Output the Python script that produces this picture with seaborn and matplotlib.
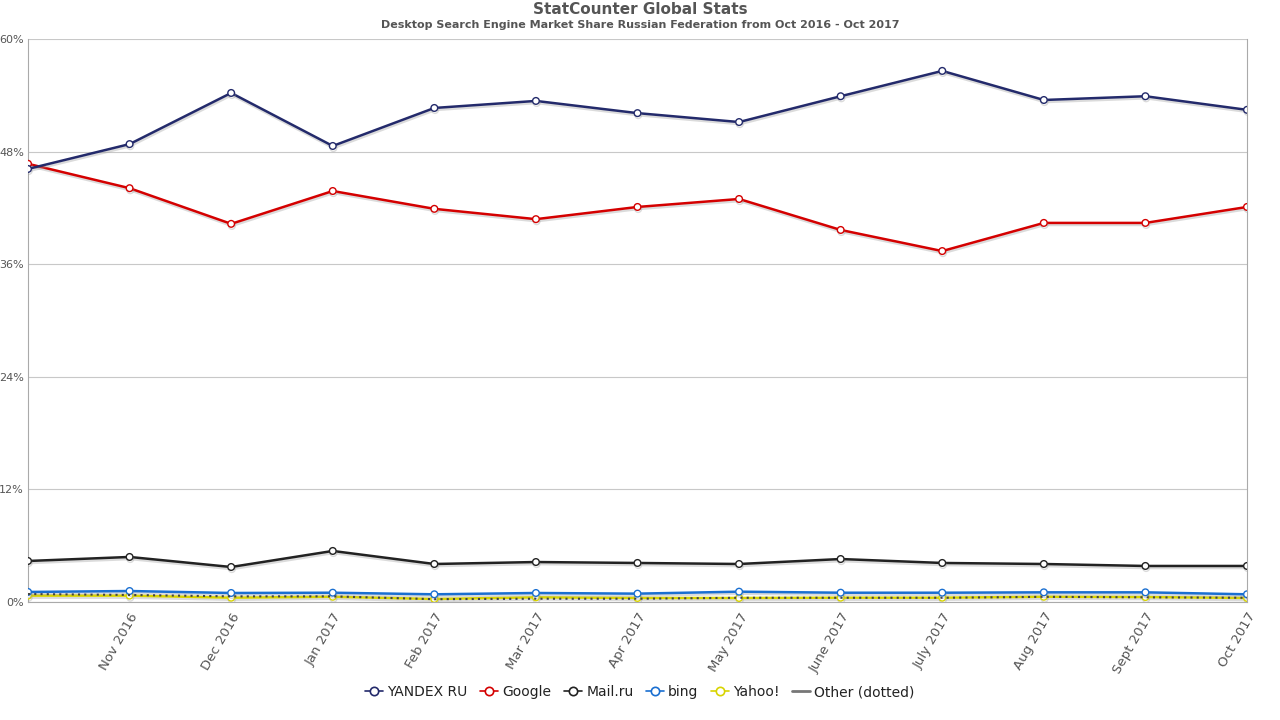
import matplotlib
matplotlib.use("Agg")
import matplotlib.pyplot as plt
import matplotlib.patheffects as pe
from matplotlib.lines import Line2D
import seaborn as sns
import pandas as pd

months = ["Oct 2016", "Nov 2016", "Dec 2016", "Jan 2017", "Feb 2017", "Mar 2017", "Apr 2017",
          "May 2017", "June 2017", "July 2017", "Aug 2017", "Sept 2017", "Oct 2017"]
yandex = [46.15, 48.8, 54.25, 48.6, 52.65, 53.4, 52.1, 51.15, 53.9, 56.6, 53.5, 53.9, 52.45]
google = [46.7, 44.1, 40.3, 43.8, 41.9, 40.8, 42.1, 42.95, 39.65, 37.4, 40.4, 40.4, 42.1]
mailru = [4.37, 4.8, 3.73, 5.44, 4.05, 4.26, 4.16, 4.05, 4.58, 4.16, 4.05, 3.84, 3.84]
bing = [1.07, 1.17, 0.96, 0.99, 0.82, 0.96, 0.89, 1.1, 0.99, 0.99, 1.03, 1.03, 0.82]
yahoo = [0.68, 0.68, 0.46, 0.56, 0.32, 0.5, 0.43, 0.43, 0.46, 0.46, 0.56, 0.53, 0.43]
other = [0.85, 0.75, 0.6, 0.6, 0.3, 0.35, 0.35, 0.45, 0.45, 0.45, 0.55, 0.5, 0.45]

series_names = ["YANDEX RU", "Google", "Mail.ru", "bing", "Yahoo!"]
series_vals = [yandex, google, mailru, bing, yahoo]
colors = ["#232a6b", "#d40000", "#222222", "#1a6fd1", "#d8d400"]
y_ticks = [0, 12, 24, 36, 48, 60]

sns.set_theme(style="white")
plt.rcParams['font.family'] = ['DejaVu Sans']

rows = []
for name, vals in zip(series_names, series_vals):
    for i, v in enumerate(vals):
        rows.append({"series": name, "idx": i, "value": v})
df = pd.DataFrame(rows)
df_other = pd.DataFrame({"idx": range(len(months)), "value": other})

fig = plt.figure(figsize=(12.8, 7.2), dpi=100)
ax = fig.add_axes([28/1280, 1 - 602/720, (1247-28)/1280, (602-39)/720])

shadow = [pe.SimpleLineShadow(offset=(0.5, -1.5), shadow_color="#999999", alpha=0.35), pe.Normal()]

for name, col in reversed(list(zip(series_names, colors))):
    sub = df[df["series"] == name]
    sns.lineplot(data=sub, x="idx", y="value", ax=ax, color=col, linewidth=1.8,
                 marker="o", markersize=4.8, markerfacecolor="white",
                 markeredgecolor=col, markeredgewidth=1.0, legend=False,
                 path_effects=shadow, zorder=3)
    if name == "Yahoo!":
        sns.lineplot(data=df_other, x="idx", y="value", ax=ax, color="#444444",
                     linewidth=1.5, linestyle=(0, (1, 2)), legend=False, zorder=4)

ax.set_xlim(0, len(months) - 1)
ax.set_ylim(0, 60)
ax.set_yticks(y_ticks)
ax.set_yticklabels([f"{t}%" for t in y_ticks], fontsize=8, color="#555555")
ax.set_xticks(range(1, len(months)))
ax.set_xticklabels(months[1:], rotation=60, ha="right", rotation_mode="anchor",
                   fontsize=9.5, color="#555555")
ax.tick_params(axis="x", length=0, pad=6)
ax.tick_params(axis="y", length=0, pad=3)
ax.set_xlabel("")
ax.set_ylabel("")
ax.grid(axis="y", color="#c8c8c8", linewidth=0.8)
ax.grid(axis="x", visible=False)
for s in ["left", "right", "bottom"]:
    ax.spines[s].set_color("#aaaaaa")
    ax.spines[s].set_linewidth(0.8)
ax.spines["top"].set_visible(False)

fig.text(0.5, 1 - 9/720, "StatCounter Global Stats", ha="center", va="center",
         fontsize=11, fontweight="bold", color="#555555")
fig.text(0.5, 1 - 25/720, "Desktop Search Engine Market Share Russian Federation from Oct 2016 - Oct 2017",
         ha="center", va="center", fontsize=8, fontweight="bold", color="#555555")

handles = [Line2D([0], [0], color=c, linewidth=1.2, marker="o", markersize=6,
                  markerfacecolor="white", markeredgecolor=c, markeredgewidth=1.2)
           for c in colors]
handles.append(Line2D([0], [0], color="#777777", linewidth=2))
labels = series_names + ["Other (dotted)"]
fig.legend(handles, labels, loc="center", bbox_to_anchor=(0.5, 1 - 692/720), ncol=6,
           frameon=False, fontsize=10, handlelength=1.3, handletextpad=0.3,
           columnspacing=0.9, labelcolor="#222222")

fig.savefig("out.png", dpi=100)
